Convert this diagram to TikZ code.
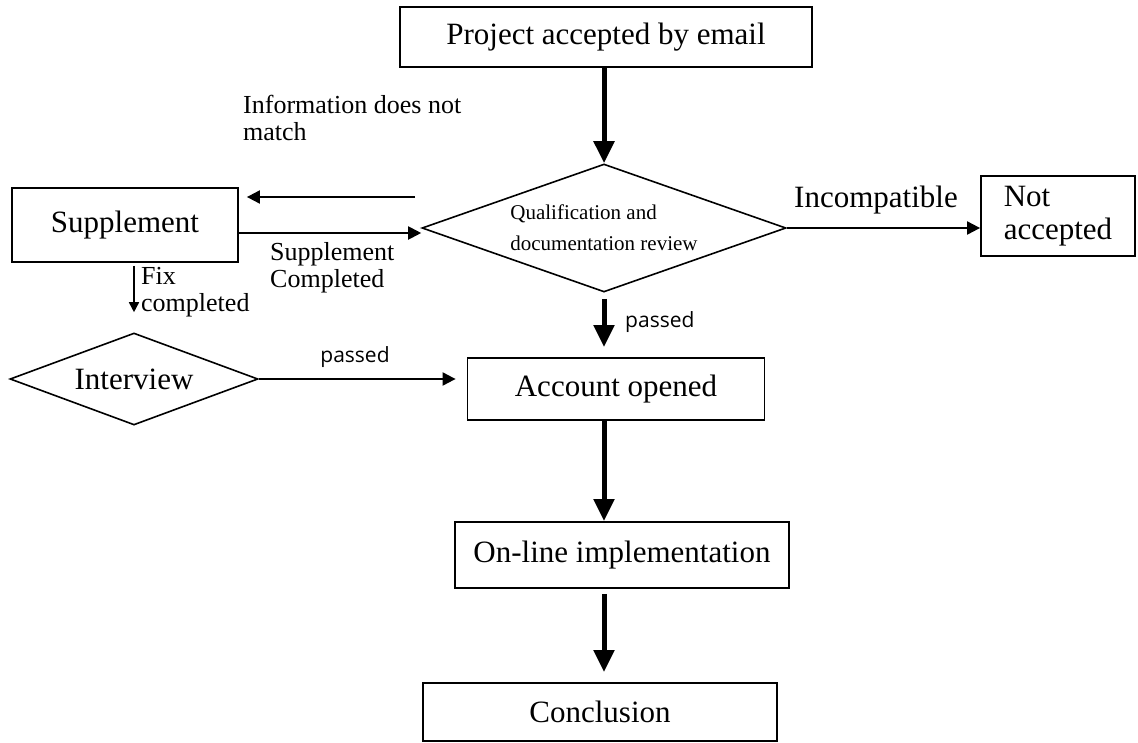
\documentclass[tikz,border=0pt]{standalone}
\usepackage{fontspec}
\setmainfont{Liberation Serif}
\newfontfamily\passfont{Open Sans}
\usetikzlibrary{arrows.meta,shapes.geometric,calc}
\begin{document}
\begin{tikzpicture}[x=1pt,y=-1pt,
 box/.style={draw, line width=1.8pt, inner sep=0pt, align=center, font=\fontsize{31}{33}\selectfont},
 dia/.style={draw, diamond, line width=1.6pt, inner sep=0pt},
 bigarrow/.style={line width=5pt, -{Triangle[length=22pt,width=20pt]}},
 smallarrow/.style={line width=2pt, -{Triangle[length=13pt,width=13pt]}},
 lbl/.style={inner sep=0pt, align=left, font=\fontsize{26}{27}\selectfont},
 pas/.style={inner sep=0pt, font=\passfont\fontsize{21}{25}\selectfont}]
\useasboundingbox (0,0) rectangle (1138,742);
% boxes
\node[box, minimum width=412pt, minimum height=60pt] (top) at (606,37) {Project accepted by email};
\node[dia, aspect=2.84, minimum width=364pt, minimum height=128pt, align=left, font=\fontsize{21}{31}\selectfont] (Q) at (604,228) {Qualification and\\documentation review};
\node[box, minimum width=226pt, minimum height=74pt] (supp) at (125,225) {Supplement};
\node[box, minimum width=154pt, minimum height=80pt, align=left] (na) at (1058,216) {Not\\accepted};
\node[dia, aspect=2.7, minimum width=248pt, minimum height=92pt, font=\fontsize{31}{33}\selectfont] (iv) at (134,379) {Interview};
\node[box, minimum width=297pt, minimum height=62pt] (acc) at (616,389) {Account opened};
\node[box, minimum width=334pt, minimum height=66pt] (onl) at (622,555) {On-line implementation};
\node[box, minimum width=354pt, minimum height=58pt] (conc) at (600,712) {Conclusion};
% coordinates
\coordinate (infoA) at (415,197);
\coordinate (scEnd) at ($(Q.west)+(0,5)$);
% connectors
\draw[bigarrow] (top.south -| Q.north) -- (Q.north);
\draw[bigarrow, shorten <=6pt, shorten >=10pt] (Q.south) -- (Q.south |- acc.north);
\draw[bigarrow] (acc.south -| Q.south) -- (onl.north -| Q.south);
\draw[bigarrow, shorten <=5pt, shorten >=10pt] (onl.south -| Q.south) -- (conc.north -| Q.south);
\draw[smallarrow, shorten >=8pt] (infoA) -- (infoA -| supp.east);
\draw[smallarrow] (scEnd -| supp.east) -- (scEnd);
\draw[smallarrow] (Q.east) -- (Q.east -| na.west);
\draw[line width=1.6pt, -{Triangle[length=10pt,width=10pt]}, shorten <=3pt, shorten >=20pt] (supp.south -| iv.north) -- (iv.north);
\draw[smallarrow, shorten >=11pt] (iv.east) -- (iv.east -| acc.west);
% labels
\node[lbl, anchor=west] (info) at (243,118) {Information does not\\match};
\node[lbl, font=\fontsize{31}{33}\selectfont] (incomp) at (876,200) {Incompatible};
\node[lbl, anchor=west] (suplbl) at (270,268) {Supplement\\Completed};
\node[lbl, anchor=west] (fixlbl) at (141,292) {Fix\\completed};
\node[pas, anchor=west] (pass1) at (625,322) {passed};
\node[pas] (pass2) at (355,357) {passed};
\end{tikzpicture}
\end{document}
